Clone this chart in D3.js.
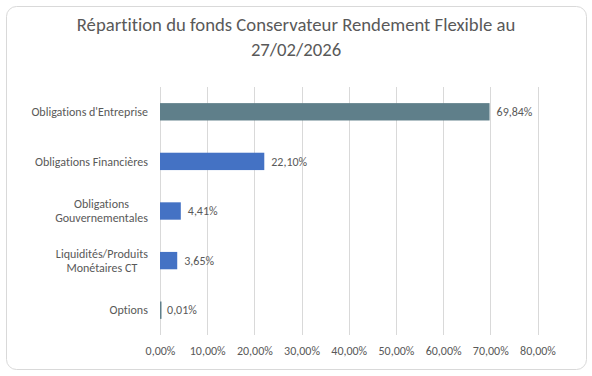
<!DOCTYPE html>
<html>
<head>
<meta charset="utf-8">
<script src="https://cdn.jsdelivr.net/npm/d3@7"></script>
<style>
  body { margin: 0; background: #fff; }
  text { font-family: Carlito, "Open Sans", sans-serif; fill: #595959; font-variant-ligatures: none; }
</style>
</head>
<body>
<svg id="chart"></svg>
<script>
// données
var categories = ["Obligations d'Entreprise", "Obligations Financières", "Obligations Gouvernementales", "Liquidités/Produits Monétaires CT", "Options"];
var labelLines = [["Obligations d'Entreprise"], ["Obligations Financières"], ["Obligations", "Gouvernementales"], ["Liquidités/Produits", "Monétaires CT"], ["Options"]];
var values = [69.84, 22.10, 4.41, 3.65, 0.01];
var barColors = ["#5F7F8A", "#4472C4", "#4472C4", "#4472C4", "#5F7F8A"];
var ticks = [0, 10, 20, 30, 40, 50, 60, 70, 80];
var titleLines = ["Répartition du fonds Conservateur Rendement Flexible au", "27/02/2026"];

var width = 592, height = 376;
var svg = d3.select("#chart").attr("width", width).attr("height", height);

var fmt = function(v) { return v.toFixed(2).replace(".", ",") + "%"; };

// cadre arrondi
svg.append("rect")
    .attr("x", 6.5).attr("y", 6.5)
    .attr("width", 580).attr("height", 363)
    .attr("rx", 10)
    .attr("fill", "#fff")
    .attr("stroke", "#D9D9D9");

// titre
svg.append("text")
    .attr("text-anchor", "middle")
    .attr("font-size", 18.7)
    .selectAll("tspan")
    .data(titleLines)
    .enter().append("tspan")
    .attr("x", 296)
    .attr("y", function(d, i) { return 31 + i * 25; })
    .text(function(d) { return d; });

var x = d3.scaleLinear().domain([0, 80]).range([160, 537.5]);
var y = d3.scaleBand().domain(categories).range([87, 335]).paddingInner(0.65).paddingOuter(0.325);

// grille verticale
svg.append("g")
    .selectAll("line")
    .data(ticks)
    .enter().append("line")
    .attr("x1", function(d) { return Math.round(x(d)) + 0.5; })
    .attr("x2", function(d) { return Math.round(x(d)) + 0.5; })
    .attr("y1", 87).attr("y2", 335)
    .attr("stroke", "#D9D9D9");

// axe des x
var axis = d3.axisBottom(x).tickValues(ticks).tickSize(0).tickPadding(0)
    .tickFormat(function(d) { return fmt(d); });
var gx = svg.append("g").attr("transform", "translate(0,355)").call(axis);
gx.select(".domain").remove();
gx.attr("font-family", null).attr("font-size", null);
gx.selectAll("text").attr("dy", 0).attr("font-size", 12);

// barres
svg.append("g")
    .selectAll("rect")
    .data(values)
    .enter().append("rect")
    .attr("x", x(0))
    .attr("y", function(d, i) { return y(categories[i]); })
    .attr("width", function(d) { return Math.max(x(d) - x(0), 1.5); })
    .attr("height", y.bandwidth())
    .attr("fill", function(d, i) { return barColors[i]; });

// étiquettes de valeurs
svg.append("g")
    .selectAll("text")
    .data(values)
    .enter().append("text")
    .attr("x", function(d) { return x(d) + 7; })
    .attr("y", function(d, i) { return y(categories[i]) + y.bandwidth() / 2; })
    .attr("dy", "0.35em")
    .attr("font-size", 12)
    .text(function(d) { return fmt(d); });

// étiquettes de catégories
var cat = svg.append("g")
    .selectAll("g")
    .data(categories)
    .enter().append("g")
    .attr("transform", function(d) { return "translate(148," + (y(d) + y.bandwidth() / 2) + ")"; });

cat.each(function(d, i) {
    var lines = labelLines[i];
    var g = d3.select(this);
    var t = g.append("text").attr("font-size", 12).attr("text-anchor", "middle");
    t.selectAll("tspan").data(lines).enter().append("tspan")
        .attr("x", 0)
        .attr("y", function(l, j) { return (j - (lines.length - 1) / 2) * 14; })
        .attr("dy", "0.35em")
        .text(function(l) { return l; });
    var w = t.node().getBBox().width;
    t.attr("transform", "translate(" + (-w / 2) + ",0)");
});
</script>
</body>
</html>
